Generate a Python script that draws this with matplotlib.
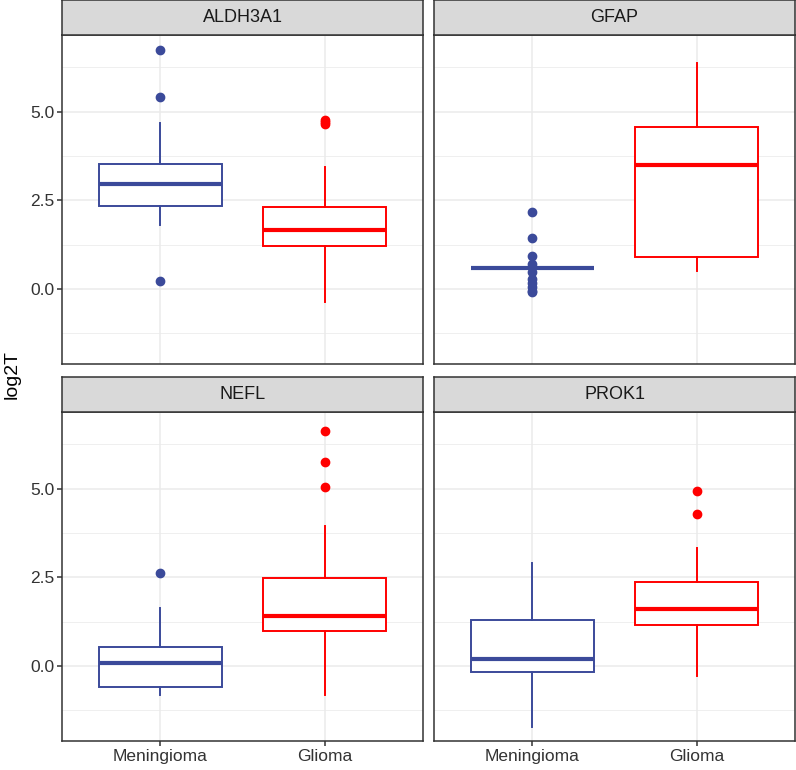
"""
Boxplots of log2T expression by tumour type, one panel per gene (ggplot theme_bw look).
"""

import matplotlib
matplotlib.use("Agg")
import matplotlib.pyplot as plt

plt.rcParams["font.family"] = ["Liberation Sans", "DejaVu Sans"]

# ---- data (box summary values) ----
genes = ["ALDH3A1", "GFAP", "NEFL", "PROK1"]
groups = ["Meningioma", "Glioma"]

# per gene: [Meningioma, Glioma]
whis_lo = {"ALDH3A1": [1.81, -0.36], "GFAP": [0.60, 0.50], "NEFL": [-0.82, -0.81], "PROK1": [-1.71, -0.28]}
q1 = {"ALDH3A1": [2.33, 1.22], "GFAP": [0.60, 0.91], "NEFL": [-0.58, 0.98], "PROK1": [-0.16, 1.17]}
median = {"ALDH3A1": [2.97, 1.67], "GFAP": [0.60, 3.50], "NEFL": [0.09, 1.41], "PROK1": [0.19, 1.61]}
q3 = {"ALDH3A1": [3.53, 2.30], "GFAP": [0.60, 4.56], "NEFL": [0.55, 2.48], "PROK1": [1.29, 2.36]}
whis_hi = {"ALDH3A1": [4.67, 3.45], "GFAP": [0.60, 6.37], "NEFL": [1.63, 3.94], "PROK1": [2.91, 3.33]}
outliers = {
    "ALDH3A1": [[6.73, 5.42, 0.22], [4.76, 4.70, 4.66]],
    "GFAP": [[2.17, 1.43, 0.94, 0.72, 0.48, 0.28, 0.17, 0.06, -0.04, -0.09], []],
    "NEFL": [[2.61], [6.62, 5.75, 5.06]],
    "PROK1": [[], [4.93, 4.29]],
}

colors = ["#3B4A9A", "#FF0000"]
y_ticks = [0.0, 2.5, 5.0]
y_minor = [-1.25, 1.25, 3.75, 6.25]

W, H = 796, 770
fig = plt.figure(figsize=(W / 100, H / 100), dpi=100)

# panel boxes in pixels: (left, top, right, bottom)
col_x = [(62, 423), (434, 795)]
row_y = [(35, 364), (412, 741)]
strip_h = 35
edge = "#333333"


def px_axes(l, t, r, b):
    return fig.add_axes([l / W, 1 - b / H, (r - l) / W, (b - t) / H])


for i, gene in enumerate(genes):
    row, col = divmod(i, 2)
    l, r = col_x[col]
    t, b = row_y[row]
    ax = px_axes(l, t, r, b)

    stats = []
    for g in range(2):
        stats.append({
            "whislo": whis_lo[gene][g], "q1": q1[gene][g], "med": median[gene][g],
            "q3": q3[gene][g], "whishi": whis_hi[gene][g], "fliers": outliers[gene][g],
        })

    for g in range(2):
        c = colors[g]
        ax.bxp([stats[g]], positions=[g + 1], widths=0.75, showcaps=False,
               patch_artist=True,
               boxprops=dict(facecolor="white", edgecolor=c, linewidth=1.4),
               whiskerprops=dict(color=c, linewidth=1.4),
               medianprops=dict(color=c, linewidth=3.0, solid_capstyle="butt"),
               flierprops=dict(marker="o", markerfacecolor=c, markeredgecolor=c,
                               markersize=6, linestyle="none"),
               zorder=3)

    ax.set_xlim(0.4, 2.6)
    ax.set_ylim(-2.11, 7.16)
    ax.set_yticks(y_ticks)
    ax.set_yticks(y_minor, minor=True)
    ax.set_xticks([1, 2])
    ax.grid(True, which="major", color="#EBEBEB", linewidth=1.1, zorder=0)
    ax.grid(True, which="minor", axis="y", color="#EBEBEB", linewidth=0.55, zorder=0)
    ax.set_axisbelow(True)
    for s in ax.spines.values():
        s.set_color(edge)
        s.set_linewidth(1.1)
    ax.tick_params(which="minor", length=0)
    ax.tick_params(which="major", color=edge, length=3.5, width=1.1, labelsize=12.5,
                   labelcolor="#333333", pad=2)

    if col == 0:
        ax.set_yticklabels([f"{v:.1f}" for v in y_ticks])
    else:
        ax.tick_params(axis="y", left=False, labelleft=False)
    if row == 1:
        ax.set_xticklabels(groups)
    else:
        ax.tick_params(axis="x", bottom=False, labelbottom=False)

    # facet strip
    sax = px_axes(l, t - strip_h, r, t)
    sax.set_facecolor("#D9D9D9")
    sax.set_xticks([])
    sax.set_yticks([])
    for s in sax.spines.values():
        s.set_color(edge)
        s.set_linewidth(1.1)
    sax.text(0.5, 0.5, gene, ha="center", va="center", fontsize=13,
             color="#1A1A1A", transform=sax.transAxes)

fig.text(12 / W, 1 - 374 / H, "log2T", rotation=90, ha="center", va="center",
         fontsize=14, color="black")

fig.savefig("out.png", dpi=100)
